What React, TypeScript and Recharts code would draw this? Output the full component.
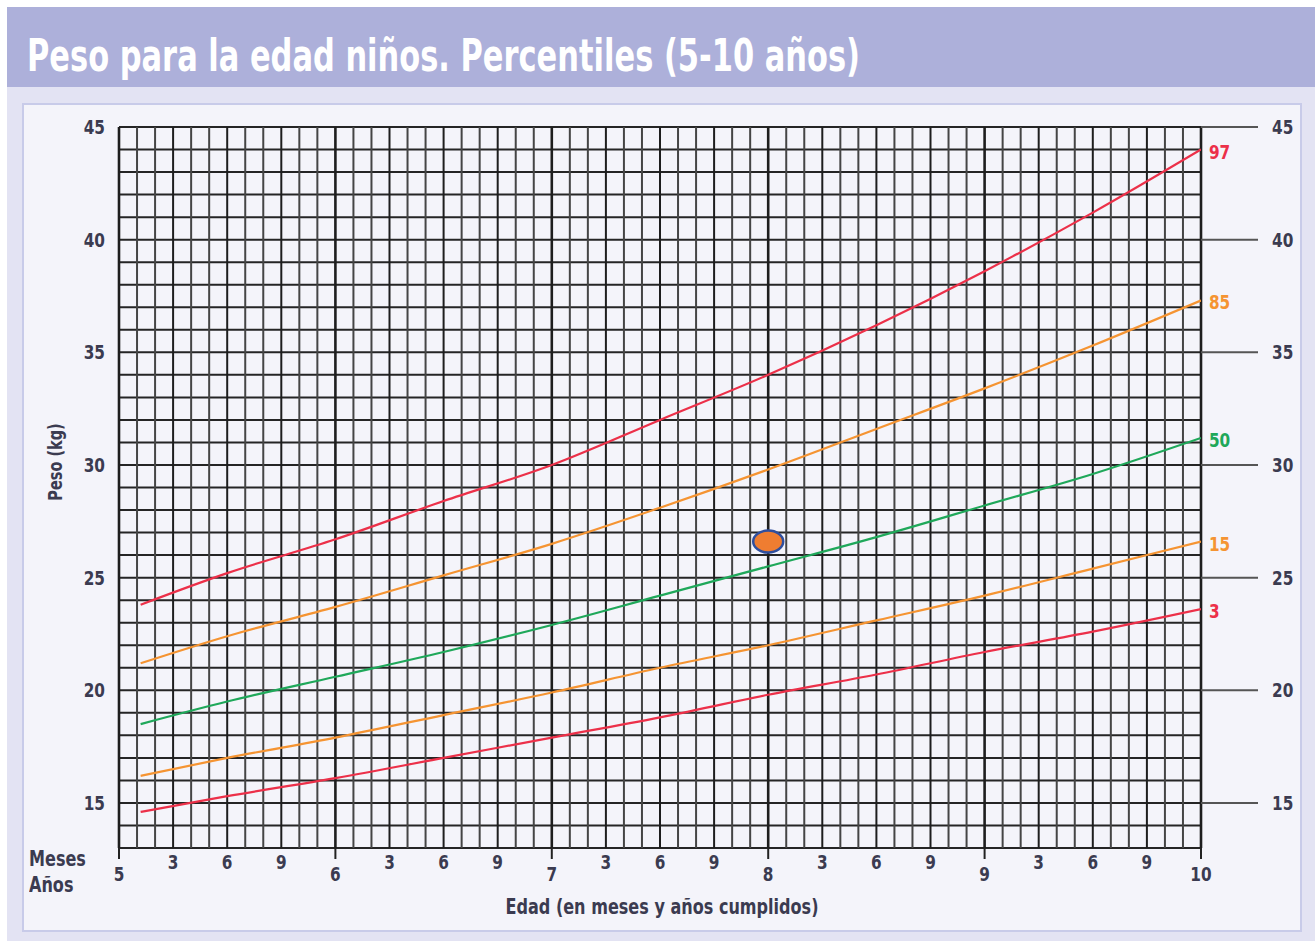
import React from 'react'
import {
  ComposedChart, Line, XAxis, YAxis, ReferenceLine, ReferenceDot, LabelList
} from 'recharts'

// edad en años (5 a 10) y pesos de cada percentil (kg)
const ages = [5.1, 5.5, 6, 6.5, 7, 7.5, 8, 8.5, 9, 9.5, 10]
const p97 = [23.8, 25.2, 26.7, 28.4, 30.0, 32.0, 34.0, 36.2, 38.6, 41.2, 44.0]
const p85 = [21.2, 22.4, 23.7, 25.1, 26.5, 28.1, 29.8, 31.6, 33.4, 35.3, 37.3]
const p50 = [18.5, 19.5, 20.6, 21.7, 22.9, 24.2, 25.5, 26.8, 28.2, 29.6, 31.2]
const p15 = [16.2, 17.0, 17.9, 18.9, 19.9, 21.0, 22.0, 23.1, 24.2, 25.4, 26.6]
const p3 = [14.6, 15.3, 16.1, 17.0, 17.9, 18.8, 19.8, 20.7, 21.7, 22.6, 23.6]

// punto del paciente
const patientAge = [8.0]
const patientWeight = [26.6]

const yTicks = [15, 20, 25, 30, 35, 40, 45]
const xTicks = [5, 5.25, 5.5, 5.75, 6, 6.25, 6.5, 6.75, 7, 7.25, 7.5, 7.75, 8, 8.25, 8.5, 8.75, 9, 9.25, 9.5, 9.75, 10]
const xTickLabels = ['5', '3', '6', '9', '6', '3', '6', '9', '7', '3', '6', '9', '8', '3', '6', '9', '9', '3', '6', '9', '10']

const series = [
  { key: 'p97', label: '97', color: '#ec3049' },
  { key: 'p85', label: '85', color: '#f59432' },
  { key: 'p50', label: '50', color: '#1fa85a' },
  { key: 'p15', label: '15', color: '#f59432' },
  { key: 'p3', label: '3', color: '#ec3049' },
]

const data = ages.map((age, i) => ({
  age, p97: p97[i], p85: p85[i], p50: p50[i], p15: p15[i], p3: p3[i],
}))

// lineas de la cuadricula: cada mes y cada kg
const monthLines = Array.from({ length: 61 }, (_, i) => 5 + i / 12)
const kgLines = Array.from({ length: 33 }, (_, i) => 13 + i)

const FONT = "'DejaVu Sans Condensed', 'Liberation Sans Narrow', Roboto, sans-serif"
const TEXT = '#3b3b50'

const XTick = (props: any) => {
  const { x, y, payload, index } = props
  const isYear = Number.isInteger(payload.value)
  return (
    <g>
      {isYear && <line x1={x} x2={x} y1={y} y2={y + 11} stroke="#222" strokeWidth={2} />}
      <text
        x={x}
        y={isYear ? y + 26 : y + 14}
        textAnchor="middle"
        dominantBaseline="central"
        fontFamily={FONT}
        fontSize={20}
        fontWeight="bold"
        fill={TEXT}
        transform={`translate(${x} 0) scale(0.85 1) translate(${-x} 0)`}
      >
        {xTickLabels[index]}
      </text>
    </g>
  )
}

const YTick = (props: any) => {
  const { x, y, payload, textAnchor } = props
  return (
    <text
      x={x}
      y={y}
      textAnchor={textAnchor}
      dominantBaseline="central"
      fontFamily={FONT}
      fontSize={20}
      fontWeight="bold"
      fill={TEXT}
      transform={`translate(${x} 0) scale(0.85 1) translate(${-x} 0)`}
    >
      {payload.value}
    </text>
  )
}

const endLabel = (label: string, color: string) => (props: any) => {
  const { x, y, index } = props
  if (index !== ages.length - 1) return null
  const tx = x + 8
  return (
    <text
      x={tx}
      y={y + 2}
      dominantBaseline="central"
      fontFamily={FONT}
      fontSize={20}
      fontWeight="bold"
      fill={color}
      transform={`translate(${tx} 0) scale(0.85 1) translate(${-tx} 0)`}
    >
      {label}
    </text>
  )
}

export default function App() {
  return (
    <div style={{ position: 'absolute', left: 0, top: 0, width: 1315, height: 941, background: '#fff' }}>
      <div style={{ position: 'absolute', left: 7, top: 7, width: 1308, height: 934, background: '#e3e3f3' }} />
      <div style={{ position: 'absolute', left: 7, top: 7, width: 1308, height: 80, background: '#adb0da' }} />
      <div
        style={{
          position: 'absolute', left: 27, top: 34, color: '#fff', fontFamily: FONT,
          fontWeight: 'bold', fontSize: 44, lineHeight: '44px', whiteSpace: 'nowrap',
          transform: 'scaleX(0.77)', transformOrigin: 'left top',
        }}
      >
        Peso para la edad niños. Percentiles (5-10 años)
      </div>
      <div
        style={{
          position: 'absolute', left: 22, top: 103, width: 1276, height: 825,
          background: '#f4f4fa', border: '2px solid #c8cbe9',
        }}
      />

      <div style={{ position: 'absolute', left: 0, top: 0 }}>
        <ComposedChart
          width={1315}
          height={941}
          data={data}
          margin={{ top: 127, right: 34, bottom: 43, left: 79 }}
        >
          <XAxis
            dataKey="age"
            type="number"
            domain={[5, 10]}
            ticks={xTicks}
            interval={0}
            allowDataOverflow
            height={50}
            axisLine={false}
            tickLine={false}
            tickSize={0}
            tickMargin={0}
            tick={<XTick />}
          />
          <YAxis
            yAxisId="l"
            type="number"
            domain={[13, 45]}
            ticks={yTicks}
            width={40}
            axisLine={false}
            tickLine={false}
            tickMargin={8}
            tick={<YTick />}
          />
          <YAxis
            yAxisId="r"
            orientation="right"
            type="number"
            domain={[13, 45]}
            ticks={yTicks}
            width={80}
            axisLine={false}
            tickSize={57}
            tickMargin={14}
            tickLine={{ stroke: '#555', strokeWidth: 2 }}
            tick={<YTick />}
          />

          {kgLines.map((v) => (
            <ReferenceLine key={'h' + v} yAxisId="l" y={v} stroke="#252525" strokeWidth={2} />
          ))}
          {monthLines.map((v, i) => (
            <ReferenceLine
              key={'v' + i}
              yAxisId="l"
              x={v}
              stroke={i % 3 === 0 ? '#1e1e1e' : '#454545'}
              strokeWidth={i % 12 === 0 ? 2.6 : 2}
            />
          ))}

          {/* serie invisible para que el eje derecho tenga datos */}
          <Line yAxisId="r" dataKey="p50" stroke="none" dot={false} legendType="none" isAnimationActive={false} />

          {series.map((s) => (
            <Line
              key={s.key}
              yAxisId="l"
              dataKey={s.key}
              type="monotone"
              stroke={s.color}
              strokeWidth={2.2}
              dot={false}
              isAnimationActive={false}
            >
              <LabelList dataKey={s.key} content={endLabel(s.label, s.color)} />
            </Line>
          ))}

          <ReferenceDot
            yAxisId="l"
            x={patientAge[0]}
            y={patientWeight[0]}
            r={12}
            shape={(p: any) => (
              <ellipse cx={p.cx} cy={p.cy} rx={15} ry={11} fill="#ef7d31" stroke="#2f4f9e" strokeWidth={2.5} />
            )}
          />
        </ComposedChart>
      </div>

      <div
        style={{
          position: 'absolute', left: 55, top: 462, transform: 'translate(-50%, -50%) rotate(-90deg) scaleX(0.85)',
          fontFamily: FONT, fontSize: 19, fontWeight: 'bold', color: TEXT, whiteSpace: 'nowrap',
        }}
      >
        Peso (kg)
      </div>
      <div
        style={{
          position: 'absolute', left: 29, top: 846, fontFamily: FONT, fontSize: 21, fontWeight: 'bold',
          color: TEXT, lineHeight: '26px', transform: 'scaleX(0.85)', transformOrigin: 'left top',
        }}
      >
        Meses<br />Años
      </div>
      <div
        style={{
          position: 'absolute', left: 662, top: 907, transform: 'translate(-50%, -50%) scaleX(0.85)',
          fontFamily: FONT, fontSize: 21, fontWeight: 'bold', color: TEXT, whiteSpace: 'nowrap',
        }}
      >
        Edad (en meses y años cumplidos)
      </div>
    </div>
  )
}
